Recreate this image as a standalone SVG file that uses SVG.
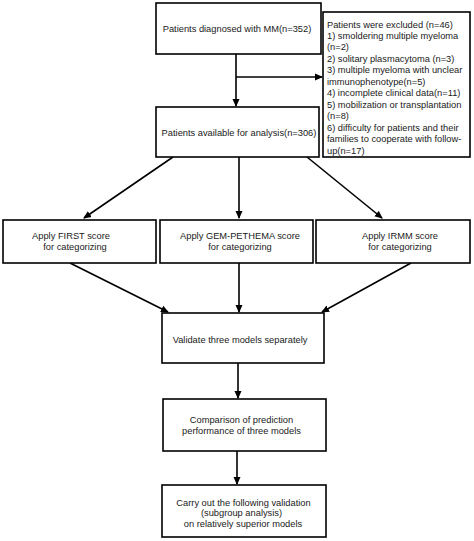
<svg xmlns="http://www.w3.org/2000/svg" width="474" height="541" viewBox="0 0 474 541">
<defs>
<marker id="ah" markerWidth="8" markerHeight="8" refX="7" refY="4" orient="auto" markerUnits="userSpaceOnUse">
<path d="M0,0.5 L8,4 L0,7.5 Z" fill="#000"/>
</marker>
<style>
.box{fill:#fff;stroke:#000;stroke-width:1.6}
.t{font-family:"Liberation Sans",Arial,sans-serif;font-size:9.3px;fill:#1a1a1a}
.m{text-anchor:middle}
.c{fill:none;stroke:#000;stroke-width:1.6;marker-end:url(#ah)}
.l{fill:none;stroke:#000;stroke-width:1.6}
</style>
</defs>
<rect width="474" height="541" fill="#fff"/>
<g id="connectors">
<line class="l" x1="236" y1="54" x2="236" y2="77"/>
<line class="c" x1="236" y1="77" x2="236" y2="106"/>
<line class="c" x1="236" y1="77" x2="322" y2="77"/>
<line class="c" x1="173" y1="157" x2="84" y2="218"/>
<line class="c" x1="239" y1="157" x2="239" y2="218"/>
<line class="c" x1="307" y1="157" x2="382" y2="218"/>
<line class="c" x1="70" y1="263" x2="168" y2="312"/>
<line class="c" x1="239" y1="263" x2="239" y2="312"/>
<line class="c" x1="411" y1="263" x2="322" y2="312"/>
<line class="c" x1="238" y1="363" x2="238" y2="398"/>
<line class="c" x1="237" y1="451" x2="237" y2="484"/>
</g>
<g id="n1">
<rect class="box" x="156" y="3" width="165" height="51"/>
<text class="t m" x="237" y="31.5">Patients diagnosed with MM(n=352)</text>
</g>
<g id="n2">
<rect class="box" x="323" y="12" width="147" height="145"/>
<text class="t" x="327">
<tspan x="327" y="27.5">Patients were excluded (n=46)</tspan>
<tspan x="327" y="38.5">1) smoldering multiple myeloma</tspan>
<tspan x="327" y="50">(n=2)</tspan>
<tspan x="327" y="61.5">2) solitary plasmacytoma (n=3)</tspan>
<tspan x="327" y="73">3) multiple myeloma with unclear</tspan>
<tspan x="327" y="84.5">immunophenotype(n=5)</tspan>
<tspan x="327" y="96">4) incomplete clinical data(n=11)</tspan>
<tspan x="327" y="107.5">5) mobilization or transplantation</tspan>
<tspan x="327" y="119">(n=8)</tspan>
<tspan x="327" y="130.5">6) difficulty for patients and their</tspan>
<tspan x="327" y="142">families to cooperate with follow-</tspan>
<tspan x="327" y="153.5">up(n=17)</tspan>
</text>
</g>
<g id="n3">
<rect class="box" x="156" y="107" width="163" height="50"/>
<text class="t m" x="239" y="135.5">Patients available for analysis(n=306)</text>
</g>
<g id="n4">
<rect class="box" x="3" y="220" width="153" height="43"/>
<text class="t m" x="71" y="238.5">Apply FIRST score</text>
<text class="t m" x="75" y="249.5">for categorizing</text>
</g>
<g id="n5">
<rect class="box" x="160" y="220" width="153" height="43"/>
<text class="t m" x="240" y="238.5">Apply GEM-PETHEMA score</text>
<text class="t m" x="240" y="249.5">for categorizing</text>
</g>
<g id="n6">
<rect class="box" x="316" y="220" width="154" height="43"/>
<text class="t m" x="400" y="238.5">Apply IRMM score</text>
<text class="t m" x="400" y="249.5">for categorizing</text>
</g>
<g id="n7">
<rect class="box" x="162" y="313" width="162" height="50"/>
<text class="t m" x="240" y="342.5">Validate three models separately</text>
</g>
<g id="n8">
<rect class="box" x="163" y="399" width="163" height="52"/>
<text class="t m" x="241.5" y="422.5">Comparison of prediction</text>
<text class="t m" x="241.5" y="433.5">performance of three models</text>
</g>
<g id="n9">
<rect class="box" x="162" y="485" width="164" height="52"/>
<text class="t m" x="243.5" y="505.5">Carry out the following validation</text>
<text class="t m" x="241.5" y="516">(subgroup analysis)</text>
<text class="t m" x="243" y="526.5">on relatively superior models</text>
</g>
</svg>
